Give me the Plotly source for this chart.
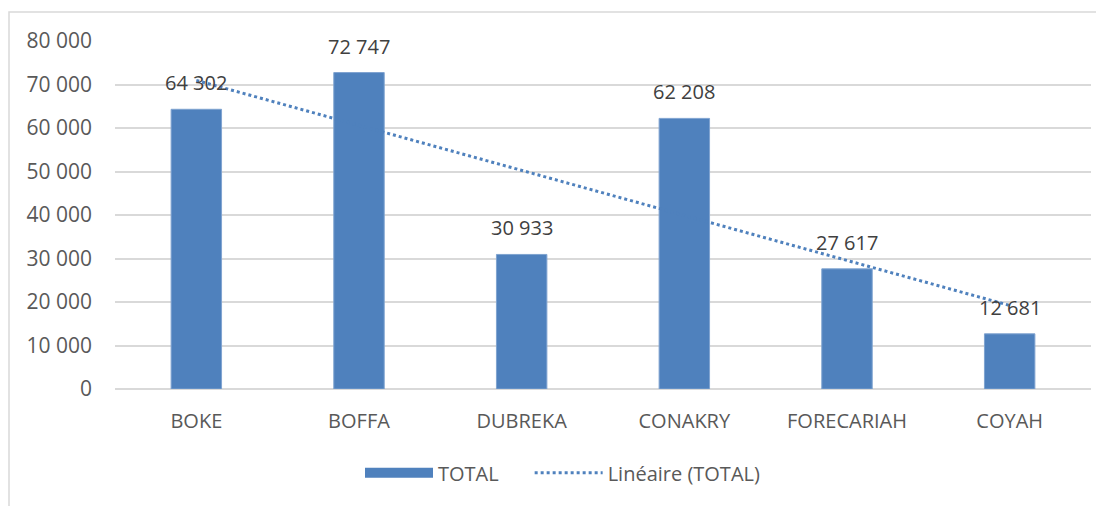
import numpy as np
import plotly.graph_objects as go

categories = ["BOKE", "BOFFA", "DUBREKA", "CONAKRY", "FORECARIAH", "COYAH"]
totals = [64302, 72747, 30933, 62208, 27617, 12681]
y_ticks = [0, 10000, 20000, 30000, 40000, 50000, 60000, 70000, 80000]

def fmt(v):
    return f"{v:,}".replace(",", " ")

# linear trendline (like Excel's "Linéaire")
xs = np.arange(1, len(totals) + 1)
slope, intercept = np.polyfit(xs, totals, 1)
trend = slope * xs + intercept

BLUE = "#4F81BD"
FONT = "Open Sans"
FS = 20

fig = go.Figure()
fig.add_trace(go.Bar(
    x=categories, y=totals, name="TOTAL", showlegend=False,
    marker=dict(color=BLUE, line=dict(color="#7FA3D0", width=1)),
))
# legend proxy for the bar series (wide rectangle like the original)
fig.add_trace(go.Scatter(
    x=[categories[0]], y=[None], name="TOTAL" + "\u00a0" * 5, mode="lines",
    line=dict(color=BLUE, width=14), hoverinfo="skip",
))
fig.add_trace(go.Scatter(
    x=categories, y=trend, name="Linéaire (TOTAL)", mode="lines",
    line=dict(color=BLUE, width=3, dash="dot"),
))

for c, v in zip(categories, totals):
    fig.add_annotation(x=c, y=v, text=fmt(v), showarrow=False,
                       yanchor="bottom", yshift=11,
                       font=dict(family=FONT, size=FS, color="#404040"))

W, H = 1096, 498
L, T, PW, PH = 107, 33, 976, 348
fig.update_layout(
    width=W, height=H,
    margin=dict(l=L, r=W - L - PW, t=T, b=H - T - PH),
    paper_bgcolor="white", plot_bgcolor="white",
    bargap=0.69,
    font=dict(family=FONT, size=FS, color="#595959"),
    showlegend=True,
    legend=dict(orientation="h", x=(357 - 107 - 5) / 976, xanchor="left",
                y=-0.241, yanchor="middle",
                font=dict(family=FONT, size=FS, color="#595959"),
                itemwidth=68, tracegroupgap=0),
    shapes=[dict(type="rect", xref="paper", yref="paper",
                 x0=(1 - L) / PW, x1=1.2, y0=-0.6, y1=(PH + T - 4) / PH,
                 line=dict(color="#D9D9D9", width=1.5), layer="below")],
)
fig.update_yaxes(
    range=[0, 80000], tickvals=y_ticks, ticktext=[fmt(v) for v in y_ticks],
    showgrid=True, gridcolor="#D9D9D9", gridwidth=1.5,
    zeroline=True, zerolinecolor="#D9D9D9", zerolinewidth=1.5,
    showline=False, ticks="", ticklabelstandoff=22,
    tickfont=dict(size=21),
)
fig.update_xaxes(
    showgrid=False, showline=False, ticks="", ticklabelstandoff=18,
)

fig.write_html("out.html")
